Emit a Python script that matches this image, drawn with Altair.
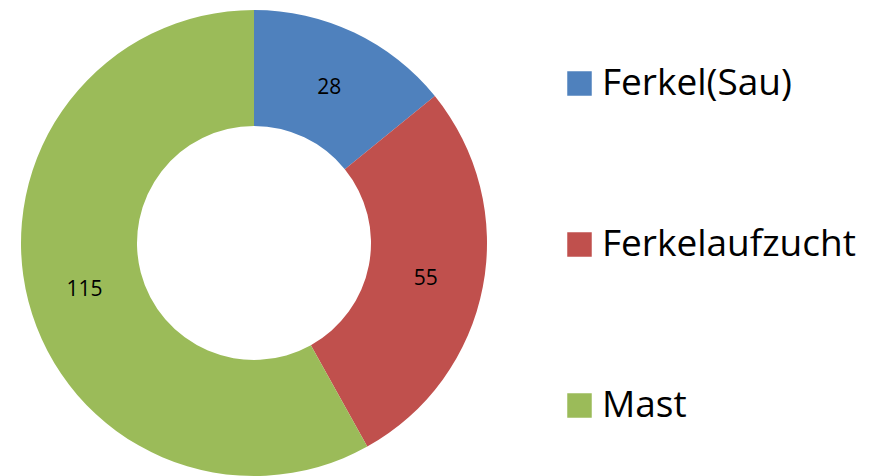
import altair as alt
import pandas as pd

categories = ["Ferkel(Sau)", "Ferkelaufzucht", "Mast"]
values = [28, 55, 115]
colors = ["#4F81BD", "#C0504D", "#9BBB59"]

df = pd.DataFrame({"Kategorie": categories, "Wert": values, "idx": list(range(len(values)))})

base = alt.Chart(df).encode(
    theta=alt.Theta("Wert:Q", stack=True),
    order=alt.Order("idx:Q"),
)

arcs = base.mark_arc(outerRadius=233, innerRadius=117, stroke=None).encode(
    color=alt.Color(
        "Kategorie:N",
        scale=alt.Scale(domain=categories, range=colors),
        sort=categories,
        legend=alt.Legend(
            title=None,
            orient="none",
            legendX=553,
            legendY=57,
            symbolType="square",
            symbolSize=600,
            symbolStrokeWidth=0,
            labelFontSize=37,
            labelFont="Open Sans",
            labelColor="#000000",
            labelOffset=4,
            rowPadding=123,
            labelLimit=400,
        ),
    )
)

labels = base.mark_text(radius=175, dy=3, fontSize=21, font="Open Sans", color="#000000").encode(
    text=alt.Text("Wert:Q")
)

chart = (
    alt.layer(arcs, labels)
    .properties(
        width=492,
        height=470,
        padding={"left": 0, "top": 0, "right": 361, "bottom": 0},
        autosize=alt.AutoSizeParams(type="none"),
    )
    .configure_view(stroke=None)
    .configure(background="#FFFFFF")
)

chart.save("out.html", embed_options={"renderer": "svg", "actions": False})
